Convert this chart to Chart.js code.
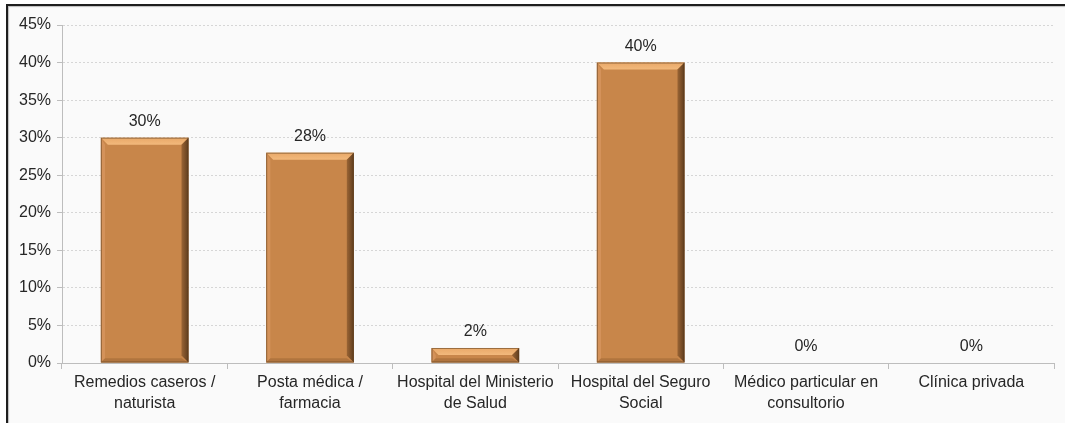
<!DOCTYPE html>
<html>
<head>
<meta charset="utf-8">
<script src="https://cdn.jsdelivr.net/npm/chart.js@4/dist/chart.umd.min.js"></script>
<style>
  html, body { margin: 0; padding: 0; background: #ffffff; }
  #wrap { position: relative; width: 1065px; height: 423px; overflow: hidden; }
  #frame {
    position: absolute; left: 6px; top: 4px; right: -4px; bottom: -4px;
    border-left: 2px solid #1e1e1e; border-top: 2px solid #1e1e1e;
    box-shadow: inset 1px 1px 1px rgba(0,0,0,0.25);
    background: #fafafa;
  }
  canvas { position: absolute; left: 0; top: 0; }
</style>
</head>
<body>
<div id="wrap">
  <div id="frame"></div>
  <canvas id="chart" width="1065" height="423"></canvas>
</div>
<script>
// Where people go when they fall ill (% of respondents)
const categories = [
  ['Remedios caseros /', 'naturista'],
  ['Posta médica /', 'farmacia'],
  ['Hospital del Ministerio', 'de Salud'],
  ['Hospital del Seguro', 'Social'],
  ['Médico particular en', 'consultorio'],
  'Clínica privada'
];
const percentages = [30, 28, 2, 40, 0, 0];
const yTicks = [0, 5, 10, 15, 20, 25, 30, 35, 40, 45];

const FONT = 'Liberation Sans, Arial, sans-serif';
const TEXT = '#262626';
const BAR_FILL = '#c8864a';

// Beveled look on each bar: light top, dark right, shaded left/bottom edges
const bevelPlugin = {
  id: 'bevel',
  afterDatasetsDraw(chart) {
    const ctx = chart.ctx;
    chart.getDatasetMeta(0).data.forEach(bar => {
      const { x, y, base, width } = bar.getProps(['x', 'y', 'base', 'width'], true);
      const h = base - y;
      if (h <= 0.5) return;
      const l = x - width / 2, r = x + width / 2, t = y, b = base;
      const s = Math.min(7, h / 2);
      ctx.save();
      // top
      ctx.beginPath();
      ctx.moveTo(l, t); ctx.lineTo(r, t); ctx.lineTo(r - s, t + s); ctx.lineTo(l + s, t + s); ctx.closePath();
      let g = ctx.createLinearGradient(0, t, 0, t + s);
      g.addColorStop(0, '#e9a868'); g.addColorStop(1, '#f2b97c');
      ctx.fillStyle = g; ctx.fill();
      // right
      ctx.beginPath();
      ctx.moveTo(r, t); ctx.lineTo(r, b); ctx.lineTo(r - s, b - s); ctx.lineTo(r - s, t + s); ctx.closePath();
      g = ctx.createLinearGradient(r - s, 0, r, 0);
      g.addColorStop(0, '#9a6434'); g.addColorStop(1, '#5e3c1e');
      ctx.fillStyle = g; ctx.fill();
      // left
      ctx.beginPath();
      ctx.moveTo(l, t); ctx.lineTo(l + s * 0.6, t + s); ctx.lineTo(l + s * 0.6, b - s * 0.6); ctx.lineTo(l, b); ctx.closePath();
      ctx.fillStyle = '#d4925a'; ctx.fill();
      // bottom
      ctx.beginPath();
      ctx.moveTo(l, b); ctx.lineTo(r, b); ctx.lineTo(r - s, b - s * 0.6); ctx.lineTo(l + s * 0.6, b - s * 0.6); ctx.closePath();
      ctx.fillStyle = '#b0743e'; ctx.fill();
      // outline
      ctx.strokeStyle = 'rgba(90,58,28,0.55)';
      ctx.lineWidth = 1;
      ctx.strokeRect(l + 0.5, t + 0.5, width - 1, h - 1);
      ctx.restore();
    });
  }
};

// Percentage label above each bar
const valueLabels = {
  id: 'valueLabels',
  afterDatasetsDraw(chart) {
    const ctx = chart.ctx;
    const ds = chart.data.datasets[0];
    ctx.save();
    ctx.font = '16px ' + FONT;
    ctx.fillStyle = TEXT;
    ctx.textAlign = 'center';
    ctx.textBaseline = 'bottom';
    chart.getDatasetMeta(0).data.forEach((bar, i) => {
      ctx.fillText(ds.data[i] + '%', bar.x, bar.y - 8);
    });
    ctx.restore();
  }
};

new Chart(document.getElementById('chart'), {
  type: 'bar',
  data: {
    labels: categories,
    datasets: [{
      data: percentages,
      backgroundColor: BAR_FILL,
      borderWidth: 0,
      categoryPercentage: 1,
      barPercentage: 0.53
    }]
  },
  options: {
    responsive: false,
    animation: false,
    layout: { padding: { top: 25, right: 11, bottom: 0, left: 0 } },
    plugins: { legend: { display: false }, tooltip: { enabled: false } },
    scales: {
      x: {
        grid: {
          offset: true,
          drawOnChartArea: false,
          drawTicks: true,
          tickLength: 6,
          color: '#bdbdbd'
        },
        border: { color: '#bdbdbd', width: 1 },
        ticks: {
          color: TEXT,
          font: { family: FONT, size: 16, lineHeight: 1.3 },
          padding: 3,
          maxRotation: 0,
          autoSkip: false
        },
        afterFit(scale) { scale.height = 60; }
      },
      y: {
        min: 0,
        max: 45,
        afterBuildTicks(scale) { scale.ticks = yTicks.map(v => ({ value: v })); },
        grid: {
          color: '#d6d6d6',
          tickLength: 5,
          tickColor: '#bdbdbd',
          drawTicks: true
        },
        border: { color: '#bdbdbd', width: 1, dash: [2, 2] },
        ticks: {
          color: TEXT,
          font: { family: FONT, size: 16 },
          padding: 6,
          callback: v => v + '%'
        },
        afterFit(scale) { scale.width = 62; }
      }
    }
  },
  plugins: [bevelPlugin, valueLabels]
});
</script>
</body>
</html>
